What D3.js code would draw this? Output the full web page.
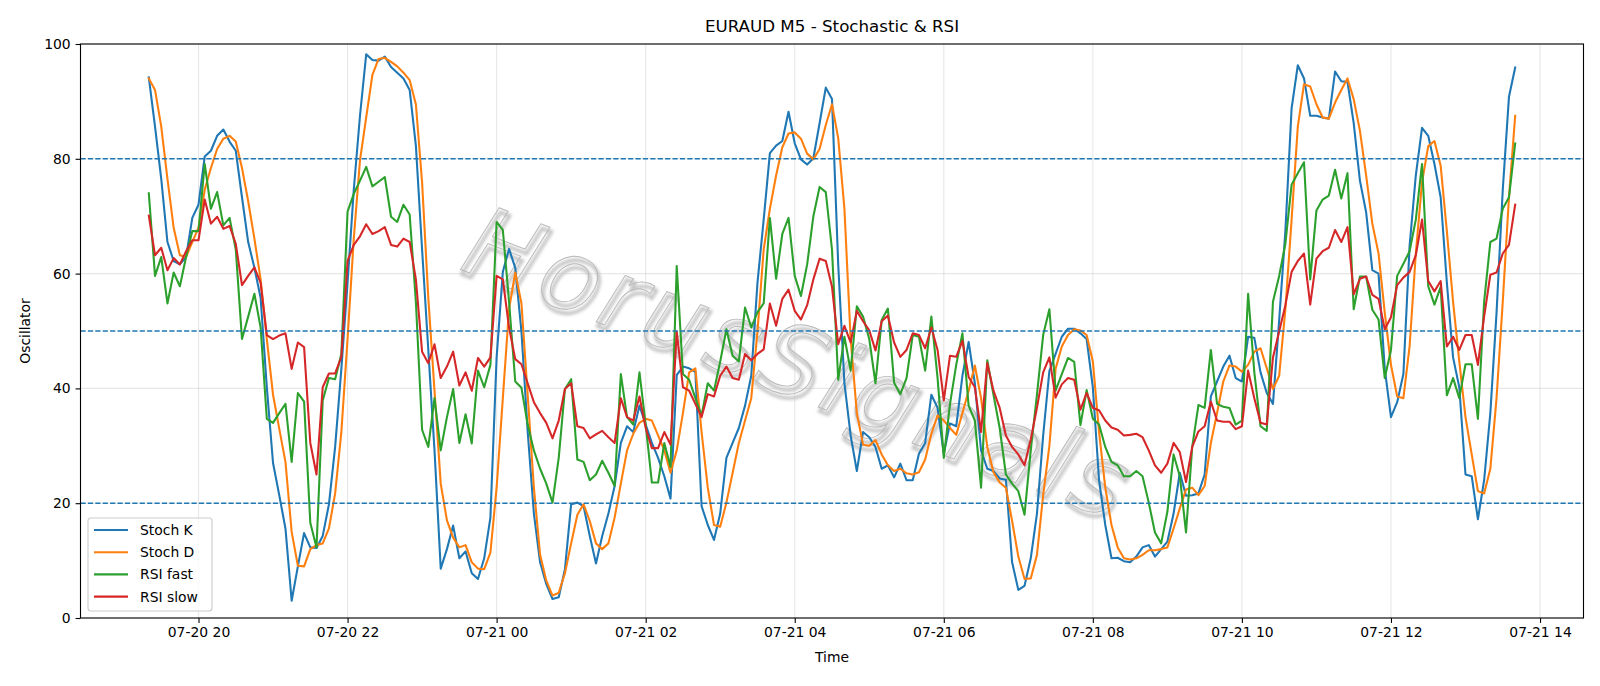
<!DOCTYPE html>
<html>
<head>
<meta charset="utf-8">
<title>EURAUD M5 - Stochastic &amp; RSI</title>
<script src="https://d3js.org/d3.v7.min.js"></script>
<style>
body{margin:0;background:#fff;}
svg{display:block;font-family:'DejaVu Sans',sans-serif;}
</style>
</head>
<body>
<div id="content"></div>
<script>
// 5 minute bars, first bar 07-20 19:20
var startTime = Date.UTC(2024, 6, 20, 19, 20);
var stepMinutes = 5;

var stochK = [
	94.2, 85.6, 76.5, 65.5, 62.2, 61.6, 62.9, 69.7, 72, 80.4,
	81.4, 84, 85.1, 83, 81.4, 73.3, 65.5, 61, 55.8, 40.2,
	27, 21.4, 15.6, 3, 9, 14.8, 12.3, 12.2, 14.3, 19.8,
	29.8, 43.4, 58.4, 74.6, 87.5, 98.2, 97.2, 97.1, 97.8, 96,
	95, 94, 92, 82.3, 64.2, 46.7, 29.2, 8.6, 12, 16.1,
	10.4, 11.6, 7.8, 6.8, 10.4, 17.5, 45.4, 60.3, 64.3, 61,
	49.9, 32.5, 18.2, 9.7, 5.9, 3.3, 3.6, 8.5, 19.8, 20.1,
	19.5, 14.3, 9.5, 14.3, 18.2, 23, 30.5, 33.4, 32.4, 37,
	33.7, 30.5, 27.9, 24.7, 20.8, 42.3, 43.8, 43.5, 42.9, 19.5,
	16.2, 13.6, 18.2, 27.9, 30.5, 33.1, 37, 42.2, 58.4, 69.4,
	81, 82.3, 83.1, 88.2, 82.7, 79.9, 79, 80.1, 86.2, 92.4,
	90.4, 61.6, 40.9, 31.8, 25.6, 32.4, 31.5, 29.8, 26, 26.6,
	24.5, 26.9, 24, 24, 28.6, 30.5, 38.9, 36.6, 28.6, 33.9,
	33.4, 42.2, 48.1, 40.9, 29.2, 26, 25.6, 24.3, 24.1, 9.7,
	4.9, 5.6, 10.4, 18.2, 31.8, 43, 46, 49, 50.4, 50.4,
	49.6, 48.6, 40.2, 24, 16.2, 10.4, 10.5, 9.9, 9.7, 10.7,
	12.3, 12.7, 10.7, 12, 13.3, 18.2, 25.3, 21.3, 21.4, 21.7,
	25, 38.6, 41.2, 43.8, 45.7, 41.8, 41.2, 49, 48.8, 42.8,
	39.2, 37.3, 51.9, 67.4, 88.8, 96.3, 94, 87.5, 87.5, 87.2,
	87, 95.2, 93.5, 93.4, 86.2, 76.2, 70.7, 60.6, 60, 43.4,
	35, 37.6, 42.5, 64.8, 77.1, 85.4, 84, 79.1, 73.3, 58.4,
	45.4, 40.2, 25, 24.7, 17.2, 24, 35.7, 53.2, 74.6, 90.8, 95.9
];

var stochD = [
	94, 92, 85.6, 76.5, 68, 63.2, 62.9, 65.5, 68, 74.6,
	78.4, 81.7, 83.5, 84, 83, 78.4, 72.6, 66.1, 59, 48.6,
	38.9, 33, 27.2, 15, 9.1, 9, 12, 12.7, 13, 15.6,
	21.7, 32.4, 48.6, 66.1, 79.7, 87.2, 94.6, 97.4, 97.6, 96.9,
	96.1, 95, 93.7, 89.5, 75.9, 55.8, 39.6, 23.4, 17, 14,
	12.3, 12.7, 9.7, 8.6, 8.5, 11.4, 22.7, 38.3, 53.8, 60.2,
	54.8, 38.9, 22.7, 11, 6.5, 3.9, 4.4, 7.8, 13, 18,
	19.8, 16.9, 13, 12, 13, 17.5, 23.4, 29.2, 32.1, 34,
	34.7, 34.4, 31.8, 29.2, 25.3, 29.2, 35.7, 42.8, 43.5, 32.4,
	22.7, 16.2, 15.9, 20.1, 25.3, 30.5, 34.4, 38.3, 49.9, 64.2,
	71.3, 77.1, 82, 84.4, 84.6, 83.5, 80.9, 79.9, 81.7, 85.9,
	89.5, 83.6, 71.3, 48.6, 35.7, 30.2, 30, 31, 28.5, 26.6,
	25.6, 26, 25.2, 25, 25.4, 27.6, 32.1, 35.3, 34.4, 33.1,
	31.9, 35.7, 39.6, 44, 38.3, 29.8, 25.4, 23.6, 22.7, 16.9,
	10.7, 6.8, 6.9, 11, 21.4, 30, 43.4, 47.3, 49.3, 50.3,
	50.1, 49.3, 44.7, 32.4, 22.7, 16.2, 12.3, 10.4, 10.2, 10.4,
	11, 11.8, 11.8, 12, 12.3, 15.6, 19.1, 22.4, 22.7, 21.4,
	23, 30.5, 35.7, 41.2, 44, 43.8, 42.9, 44.1, 46.4, 47,
	43.5, 39.9, 42.2, 53.8, 69.4, 85.6, 93, 92.6, 89.5, 87.2,
	87, 89.8, 92, 94, 90.4, 84.9, 77.1, 68.7, 63.5, 53.2,
	44.1, 38.6, 38.3, 47.3, 63.5, 75.9, 82.2, 83.1, 78.8, 67.4,
	55.1, 44.7, 35, 28.5, 22.1, 21.7, 26, 38.3, 55.1, 73.3, 87.5
];

var rsiFast = [
	74, 59.6, 62.9, 54.8, 60.2, 57.8, 62.9, 67.4, 67.4, 79.1,
	71.3, 74.2, 68.4, 69.7, 64.2, 48.6, 52.5, 56.5, 50.6, 34.7,
	34, 35.7, 37.3, 27.2, 39.2, 37.7, 16.6, 12.3, 37.9, 41.8,
	41.6, 46, 70.8, 73.9, 76.2, 78.6, 75.2, 76, 76.8, 69.9,
	69, 72, 70.3, 55.1, 32.8, 29.8, 38.3, 29.2, 35, 39.9,
	30.5, 35.5, 30.4, 43.1, 40.2, 44.1, 69, 67.6, 55.1, 41.2,
	40.1, 33.7, 29.2, 26, 23.4, 20.1, 27.9, 39.9, 41.6, 27.6,
	27.2, 24, 25, 27.4, 25.3, 23, 42.5, 35, 33.7, 42.8,
	33.7, 23.6, 23.6, 30.5, 26.3, 61.3, 42.5, 41.5, 38.3, 35.3,
	40.9, 39.6, 44.7, 50.3, 45.7, 44.7, 54.1, 50.6, 53.3, 54.8,
	69.7, 59.1, 66.9, 69.7, 59.6, 56.1, 61.6, 70, 75.1, 74.2,
	64.2, 41.5, 49, 43.1, 54.3, 52.5, 48.6, 40.9, 51.9, 53.9,
	41, 39, 41.8, 49.3, 49, 43.1, 52.5, 41.8, 27.9, 37.3,
	44.1, 49.6, 37, 34.4, 22.7, 44.9, 38.9, 33.1, 25, 23.4,
	22.1, 18, 29.2, 38.9, 49.3, 53.8, 39.6, 42.5, 45.3, 44.6,
	33.6, 39.7, 34.7, 33.7, 29.8, 27.2, 26.6, 24.7, 24.7, 25.6,
	24.7, 20.1, 14.9, 13, 18.5, 28.5, 24.7, 14.9, 29.8, 37.1,
	36.6, 46.7, 37.3, 36.8, 36.6, 33.7, 34.4, 56.5, 42.8, 33.4,
	32.6, 55.1, 59.6, 65.2, 75.5, 77.5, 79.4, 59, 71, 72.9,
	73.6, 78.1, 73.1, 77.5, 53.8, 59.5, 59.5, 53.7, 52, 41.8,
	46.7, 59.6, 61.7, 63.9, 69.4, 79.1, 57.8, 54.6, 57.7, 38.8,
	41.8, 38.3, 44.2, 44.2, 34.7, 55.1, 65.5, 66.1, 71.3, 73.3, 82.7
];

var rsiSlow = [
	70.1, 63.2, 64.5, 60.6, 62.7, 61.6, 63.9, 65.8, 65.8, 72.9,
	68.7, 69.9, 67.8, 68.3, 65.2, 58, 59.6, 61.1, 58.4, 49.3,
	48.6, 49.2, 49.6, 43.4, 48, 47.2, 30.5, 25, 40.2, 42.6,
	42.6, 45.5, 62.2, 65, 66.5, 68.6, 66.9, 67.4, 68.1, 65,
	64.7, 66.1, 65.5, 59, 46.4, 44.4, 47.7, 41.8, 43.8, 46.4,
	40.5, 42.8, 39.6, 45.3, 43.8, 45.4, 59.6, 59, 50.6, 45.1,
	44.2, 40.9, 37.6, 35.7, 34, 31.3, 34.4, 39.9, 40.9, 33.4,
	33.1, 31.3, 32, 32.6, 31.5, 30.5, 38.3, 35, 34.4, 38.6,
	33.1, 29.6, 29.6, 32.4, 30.2, 49.9, 40.2, 39.6, 37.3, 35,
	39, 38.6, 42.2, 43.8, 41.8, 41.5, 46, 44.9, 46, 46.8,
	54.8, 50.9, 55.6, 57.2, 53.5, 52, 54.5, 59, 62.6, 62.2,
	57.7, 47.7, 50.9, 48, 53.5, 51.7, 50.1, 46.6, 51.7, 52.7,
	48, 45.5, 46.7, 49.6, 49.3, 47, 50.6, 46.7, 37.9, 45.7,
	45.5, 48.3, 42, 40.2, 32.4, 44.4, 39.6, 36.6, 31.8, 29.8,
	28.5, 26.6, 31.1, 36.6, 42.8, 45.4, 38.4, 40.7, 41.8, 41.5,
	36.3, 39.2, 36.6, 36.2, 34.4, 33.2, 32.8, 31.8, 31.9, 32.1,
	31.5, 29.2, 26.6, 25.3, 26.9, 30.5, 28.9, 23.7, 29.8, 32.5,
	33.4, 37.7, 34.4, 34.2, 34.2, 32.9, 33.4, 43.1, 38.3, 34,
	33.7, 45.4, 49.9, 54.5, 60.3, 62.2, 63.5, 54.6, 62.6, 63.9,
	64.5, 67.6, 65.5, 68.1, 56.4, 59.1, 59.5, 56.3, 55.6, 50.3,
	52.4, 58, 59.3, 60.3, 63.2, 69.4, 58.7, 56.9, 58.7, 47.3,
	49, 46.7, 49.3, 49.3, 44.1, 52.5, 59.8, 60.2, 63.5, 65, 72
];

var seriesNames = ['Stoch K', 'Stoch D', 'RSI fast', 'RSI slow'];
var seriesColors = ['#1f77b4', '#ff7f0e', '#2ca02c', '#d62728'];
var levels = [20, 50, 80];
var yTicks = [0, 20, 40, 60, 80, 100];
var xTicks = [
	'2024-07-20T20:00Z', '2024-07-20T22:00Z', '2024-07-21T00:00Z', '2024-07-21T02:00Z',
	'2024-07-21T04:00Z', '2024-07-21T06:00Z', '2024-07-21T08:00Z', '2024-07-21T10:00Z',
	'2024-07-21T12:00Z', '2024-07-21T14:00Z'
];

var init = init();
var axis = drawAxis(init);
drawGrid(init, axis);
drawWatermark(init);
drawSeries(init, axis, [stochK, stochD, rsiFast, rsiSlow]);
drawLevels(init, axis);
drawFrame(init);
drawLegend(init);


//user define
function init(){
	var width = 1600;
	var height = 686;
	var m = {left : 80.5, top : 44, right : 16.5, bottom : 68};
	var svg = d3.select('#content').append('svg')
		.attr('width', width)
		.attr('height', height);
	return {
		svg : svg,
		width : width,
		height : height,
		m : m,
		graphW : width - m.left - m.right,
		graphH : height - m.top - m.bottom
	};
}

function drawAxis(init){
	var times = stochK.map(function(d, i){ return new Date(startTime + i*stepMinutes*60000); });
	var t0 = +times[0], t1 = +times[times.length-1];
	var pad = (t1 - t0)*0.05;
	var x = d3.scaleUtc().domain([t0 - pad, t1 + pad]).range([init.m.left, init.m.left + init.graphW]);
	var y = d3.scaleLinear().domain([0, 100]).range([init.m.top + init.graphH, init.m.top]);
	var svg = init.svg;

	var gx = svg.append('g')
		.attr('transform', 'translate(0,' + (init.m.top + init.graphH) + ')')
		.call(d3.axisBottom(x)
			.tickValues(xTicks.map(function(s){ return new Date(s); }))
			.tickFormat(d3.utcFormat('%m-%d %H'))
			.tickSize(4.9).tickSizeOuter(0).tickPadding(4.2));
	var gy = svg.append('g')
		.attr('transform', 'translate(' + init.m.left + ',0)')
		.call(d3.axisLeft(y).tickValues(yTicks).tickSize(4.9).tickSizeOuter(0).tickPadding(4.9));

	[gx, gy].forEach(function(g){
		g.select('.domain').remove();
		g.selectAll('line').attr('stroke', '#000').attr('stroke-width', 1.1);
		g.selectAll('text').attr('fill', '#000').style('font-size', '13.9px').style('font-family', "'DejaVu Sans',sans-serif");
	});

	svg.append('text')
		.attr('x', init.m.left + init.graphW/2).attr('y', 662)
		.attr('text-anchor', 'middle').style('font-size', '13.9px')
		.text('Time');
	svg.append('text')
		.attr('transform', 'translate(30,' + (init.m.top + init.graphH/2) + ') rotate(-90)')
		.attr('text-anchor', 'middle').style('font-size', '13.9px')
		.text('Oscillator');
	svg.append('text')
		.attr('x', init.m.left + init.graphW/2).attr('y', 32)
		.attr('text-anchor', 'middle').style('font-size', '16.7px')
		.text('EURAUD M5 - Stochastic & RSI');

	return {x : x, y : y, times : times};
}

function drawGrid(init, axis){
	var g = init.svg.append('g').attr('stroke', '#b0b0b0').attr('stroke-opacity', 0.3).attr('stroke-width', 1.1);
	xTicks.forEach(function(s){
		var px = axis.x(new Date(s));
		g.append('line').attr('x1', px).attr('x2', px).attr('y1', init.m.top).attr('y2', init.m.top + init.graphH);
	});
	yTicks.forEach(function(v){
		g.append('line').attr('x1', init.m.left).attr('x2', init.m.left + init.graphW).attr('y1', axis.y(v)).attr('y2', axis.y(v));
	});
}

function drawWatermark(init){
	var defs = init.svg.append('defs');
	defs.append('filter').attr('id', 'wmBlur')
		.append('feGaussianBlur').attr('stdDeviation', 1.6);
	var g = init.svg.append('g').attr('transform', 'translate(797,362) rotate(21)');
	g.append('text')
		.attr('x', 3).attr('y', 3.5).attr('dy', '0.35em')
		.attr('text-anchor', 'middle')
		.attr('textLength', 700).attr('lengthAdjust', 'spacing')
		.style('font-size', '98px').style('font-style', 'italic').style('font-family', "'DejaVu Sans ExtraLight','DejaVu Sans',sans-serif").style('font-weight', 200)
		.attr('fill', 'none').attr('stroke', '#c4c4c4').attr('stroke-width', 3.5)
		.attr('filter', 'url(#wmBlur)')
		.text('HorusSignals');
	g.append('text')
		.attr('dy', '0.35em')
		.attr('text-anchor', 'middle')
		.attr('textLength', 700).attr('lengthAdjust', 'spacing')
		.style('font-size', '98px').style('font-style', 'italic').style('font-family', "'DejaVu Sans ExtraLight','DejaVu Sans',sans-serif").style('font-weight', 200)
		.attr('fill', 'none').attr('stroke', '#b8b8b8').attr('stroke-width', 0.9)
		.text('HorusSignals');
}

function drawSeries(init, axis, data){
	var line = d3.line()
		.x(function(d, i){ return axis.x(axis.times[i]); })
		.y(function(d){ return axis.y(d); });
	for(var i=0; i<data.length; i++){
		init.svg.append('path')
			.datum(data[i])
			.attr('d', line)
			.attr('fill', 'none')
			.attr('stroke', seriesColors[i])
			.attr('stroke-width', 2.08)
			.attr('stroke-linejoin', 'round')
			.attr('stroke-linecap', 'square');
	}
}

function drawLevels(init, axis){
	levels.forEach(function(v){
		init.svg.append('line')
			.attr('x1', init.m.left).attr('x2', init.m.left + init.graphW)
			.attr('y1', axis.y(v)).attr('y2', axis.y(v))
			.attr('stroke', '#1f77b4').attr('stroke-width', 1.4)
			.attr('stroke-dasharray', '5.2,2.2');
	});
}

function drawFrame(init){
	init.svg.append('rect')
		.attr('x', init.m.left).attr('y', init.m.top)
		.attr('width', init.graphW).attr('height', init.graphH)
		.attr('fill', 'none').attr('stroke', '#000').attr('stroke-width', 1.1);
}

function drawLegend(init){
	var g = init.svg.append('g').attr('transform', 'translate(88,518)');
	g.append('rect')
		.attr('width', 124).attr('height', 93).attr('rx', 3).attr('ry', 3)
		.attr('fill', '#fff').attr('fill-opacity', 0.8)
		.attr('stroke', '#cccccc').attr('stroke-width', 1.1);
	for(var i=0; i<seriesNames.length; i++){
		var cy = 12 + i*22.2;
		g.append('line')
			.attr('x1', 6).attr('x2', 40).attr('y1', cy).attr('y2', cy)
			.attr('stroke', seriesColors[i]).attr('stroke-width', 2.08);
		g.append('text')
			.attr('x', 52).attr('y', cy).attr('dy', '0.36em')
			.style('font-size', '13.9px')
			.text(seriesNames[i]);
	}
}
</script>
</body>
</html>
